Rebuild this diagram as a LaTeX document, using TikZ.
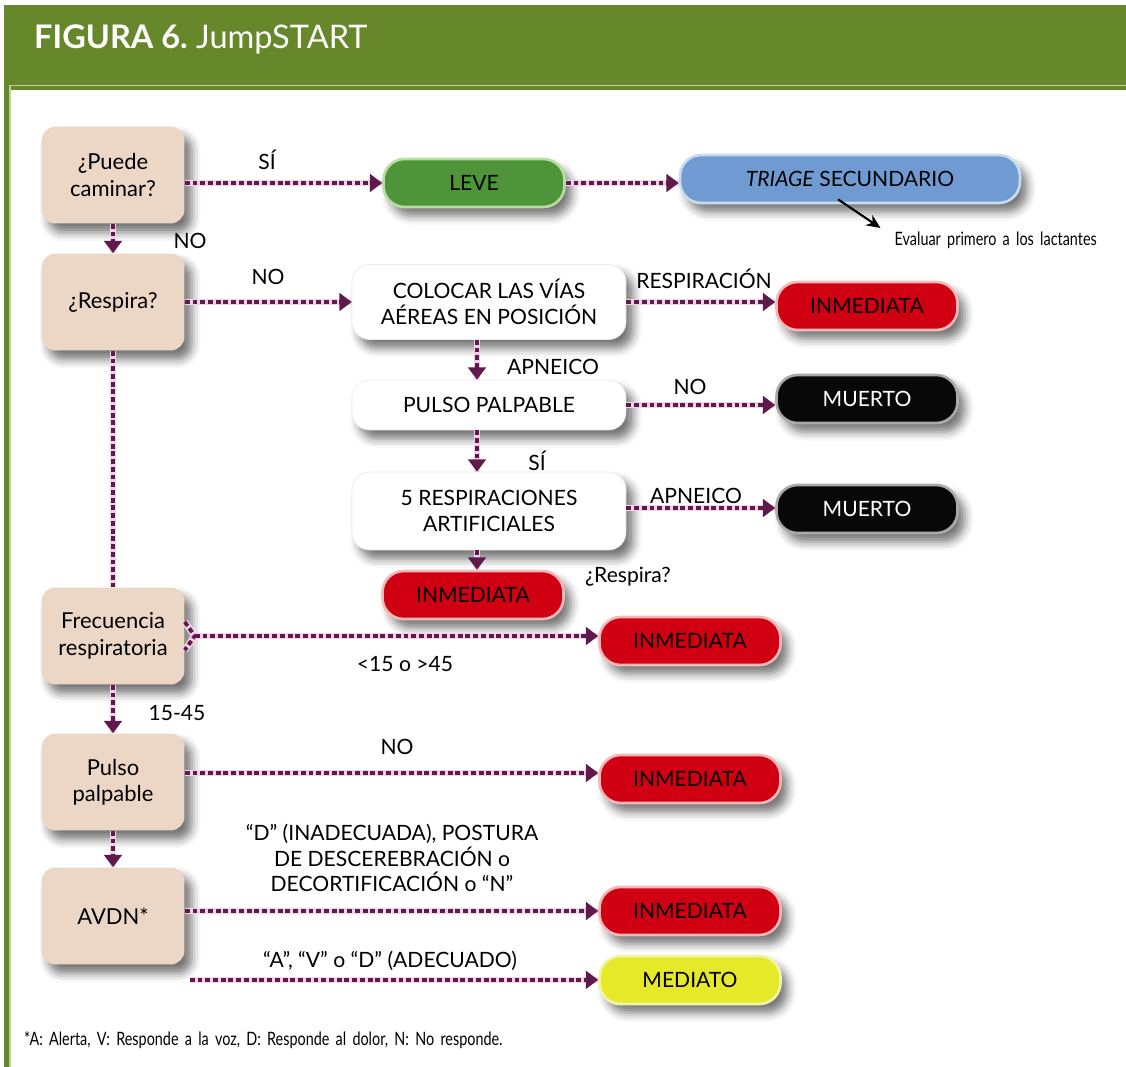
\documentclass[tikz,border=0pt]{standalone}
\usepackage{fontspec}
\setmainfont{Lato}
\newfontfamily\narrowfont[FakeStretch=0.78,WordSpace=1.7]{Lato}
\usetikzlibrary{arrows.meta,calc,shadows.blur}
\definecolor{frame}{RGB}{102,136,42}
\definecolor{frameline}{RGB}{190,208,150}
\definecolor{tan}{RGB}{236,214,198}
\definecolor{plum}{RGB}{95,25,75}
\definecolor{halo}{RGB}{242,210,232}
\definecolor{leve}{RGB}{78,148,56}
\definecolor{leveedge}{RGB}{185,220,165}
\definecolor{triage}{RGB}{111,155,210}
\definecolor{triageedge}{RGB}{200,220,240}
\definecolor{alarm}{RGB}{208,0,18}
\definecolor{alarmedge}{RGB}{245,185,185}
\definecolor{deadfill}{RGB}{8,8,8}
\definecolor{deadedge}{RGB}{170,170,170}
\definecolor{delay}{RGB}{230,233,40}
\definecolor{delayedge}{RGB}{240,245,170}
\begin{document}
\begin{tikzpicture}[x=0.02cm,y=-0.02cm,font=\fontsize{12}{14.5}\selectfont,
  shade/.style={blur shadow={shadow xshift=4pt,shadow yshift=-5pt,shadow blur radius=5pt,shadow opacity=55}},
  question/.style={shade,fill=tan,rounded corners=8pt,minimum width=2.86cm,minimum height=1.94cm,
    align=center,font=\fontsize{12.5}{15}\selectfont},
  action/.style={shade,fill=white,draw=black!8,rounded corners=10pt,minimum width=5.48cm,align=center},
  pill/.style={shade,rounded corners=12pt,line width=1.5pt,minimum width=3.62cm,minimum height=0.96cm},
  minor/.style={pill,fill=leve,draw=leveedge},
  second/.style={pill,fill=triage,draw=triageedge,minimum width=6.8cm},
  critical/.style={pill,fill=alarm,draw=alarmedge},
  dead/.style={pill,fill=deadfill,draw=deadedge,text=white},
  delayed/.style={pill,fill=delay,draw=delayedge},
  flow/.style={plum,line width=2.2pt,dash pattern=on 2.8pt off 1.6pt,
    preaction={draw=halo,line width=3.8pt,solid,-},-{Triangle[length=7pt,width=10pt]}},
  flowline/.style={flow,-},
  note/.style={font=\narrowfont\fontsize{10.5}{12}\selectfont}]
\useasboundingbox (0,0) rectangle (1126,1067);
% frame
\fill[frame] (4,5) rectangle (1126,90);
\fill[frame] (4,5) rectangle (10,1067);
\draw[frameline,line width=0.8pt] (1126,85.5) -- (10,85.5) -- (10,1067);
\node[anchor=west,text=white,font=\fontsize{18.5}{22}\selectfont] (title) at (28,39)
  {\textbf{FIGURA 6.}\ JumpSTART};
% questions
\node[question] (caminar) at (113,175) {¿Puede\\caminar?};
\node[question] (respira) at (113,302) {¿Respira?};
\node[question] (frec) at (113,636) {Frecuencia\\respiratoria};
\node[question] (pulso) at (113,782) {Pulso\\palpable};
\node[question] (avdn) at (113,916) {AVDN*};
% apnea branch
\node[action,minimum height=1.5cm] (vias) at (489,302) {COLOCAR LAS VÍAS\\AÉREAS EN POSICIÓN};
\node[action,minimum height=1cm] (palpable) at (489,405) {PULSO PALPABLE};
\node[action,minimum height=1.56cm] (artificiales) at (489,511) {5 RESPIRACIONES\\ARTIFICIALES};
% categories
\node[minor] (leve) at (474,183) {LEVE};
\node[second] (triage) at (850,179) {\textit{TRIAGE} SECUNDARIO};
\node[critical] (inm1) at (867,306) {INMEDIATA};
\node[dead] (muerto1) at (867,399) {MUERTO};
\node[dead] (muerto2) at (867,509) {MUERTO};
\node[critical] (inm2) at (473,595) {INMEDIATA};
\node[critical] (inm3) at (690,641) {INMEDIATA};
\node[critical] (inm4) at (690,779) {INMEDIATA};
\node[critical] (inm5) at (690,911) {INMEDIATA};
\node[delayed] (mediato) at (690,980) {MEDIATO};
% arrows
\draw[flow] (caminar.east |- leve) -- (leve.west);
\draw[flow] (leve.east) -- (leve.east -| triage.west);
\draw[flow] (caminar) -- (respira);
\draw[flow] (respira) -- (respira -| vias.west);
\draw[flow] (vias.east) -- (vias.east -| inm1.west);
\draw[flow] ($(vias.south)+(-12,0)$) -- ($(palpable.north)+(-12,0)$);
\draw[flow] (palpable.east) -- (palpable.east -| muerto1.west);
\draw[flow] ($(palpable.south)+(-12,0)$) -- ($(artificiales.north)+(-12,0)$);
\draw[flow] ($(artificiales.east)+(0,-3)$) -- ($(artificiales.east -| muerto2.west)+(0,-3)$);
\coordinate (drop) at ($(artificiales.south)+(-12,0)$);
\draw[flow] (drop) -- (drop |- inm2.north);
\draw[flowline] (respira) -- (frec);
\draw[flowline] ($(frec.east)+(0,-14)$) -- ++(10,14) -- ++(-10,14);
\draw[flow] ($(frec.east)+(10,0)$) -- (frec.east -| inm3.west);
\draw[flow] (frec) -- (pulso);
\draw[flow] ($(pulso.east)+(0,-9)$) -- ($(pulso.east -| inm4.west)+(0,-9)$);
\draw[flow] (pulso) -- (avdn);
\draw[flow] (avdn.east |- inm5) -- (inm5.west);
\coordinate (avdnlow) at ($(avdn.south east)+(5,15)$);
\draw[flow] (avdnlow) -- (avdnlow -| mediato.west);
% labels
\node (si1) at (267,160) {SÍ};
\node (no1) at (190,241) {NO};
\node (no2) at (268,277) {NO};
\node (respiracion) at (704,279) {RESPIRACIÓN};
\node (apneico1) at (553,367) {APNEICO};
\node (no3) at (690,387) {NO};
\node (si2) at (537,461) {SÍ};
\node (apneico2) at (696,496) {APNEICO};
\node (respira2) at (628,577) {¿Respira?};
\node (rango1) at (405,664) {<15 o >45};
\node (rango2) at (177,713) {15-45};
\node (no4) at (397,747) {NO};
\node[align=center] (inadecuada) at (392,858)
  {“D” (INADECUADA), POSTURA\\DE DESCEREBRACIÓN o\\DECORTIFICACIÓN o “N”};
\node (adecuado) at (390,961) {“A”, “V” o “D” (ADECUADO)};
% notes
\node[note,anchor=east] (lactantes) at (1103,240) {Evaluar primero a los lactantes};
\draw[-{Stealth[length=8pt,width=7pt]},line width=1.2pt] ($(triage.south)+(-12,-5)$) -- ($(lactantes.west)+(-8,-12)$);
\node[note,anchor=west] (nota) at (18,1040) {*A: Alerta, V: Responde a la voz, D: Responde al dolor, N: No responde.};
\end{tikzpicture}
\end{document}
